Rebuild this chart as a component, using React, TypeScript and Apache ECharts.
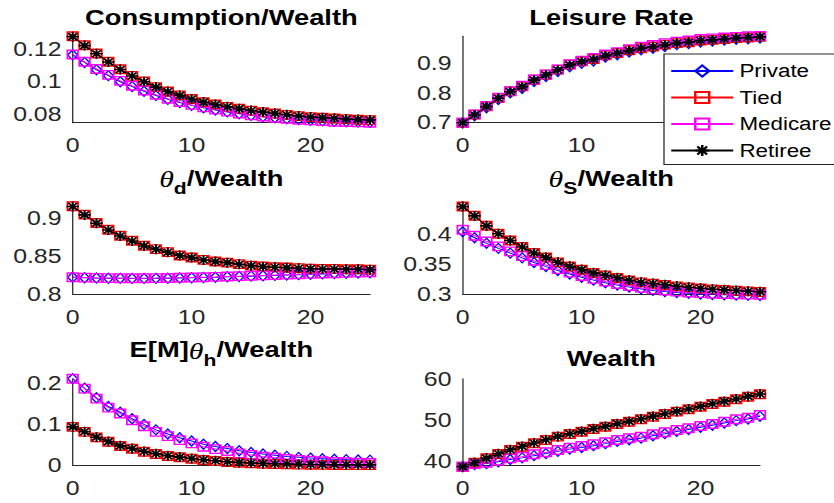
import React, { useEffect, useRef } from 'react';
import * as echarts from 'echarts';

// ---------------- data ----------------
const periods = [0, 1, 2, 3, 4, 5, 6, 7, 8, 9, 10, 11, 12, 13, 14, 15, 16, 17, 18, 19, 20, 21, 22, 23, 24, 25];
const seriesNames = ['Private', 'Tied', 'Medicare', 'Retiree'];
const xTicks = [0, 10, 20];

// Consumption / Wealth
const consPrivate = [0.1163, 0.1117, 0.1072, 0.1036, 0.0999, 0.0969, 0.0941, 0.0915, 0.0892, 0.0872, 0.0854, 0.0839, 0.0826, 0.0814, 0.0803, 0.0793, 0.0785, 0.0778, 0.0772, 0.0767, 0.0763, 0.0759, 0.0756, 0.0754, 0.0752, 0.0751];
const consTied = [0.1277, 0.1222, 0.1172, 0.1121, 0.1075, 0.1035, 0.1000, 0.0966, 0.0939, 0.0915, 0.0893, 0.0873, 0.0859, 0.0845, 0.0833, 0.0822, 0.0812, 0.0804, 0.0796, 0.0788, 0.0782, 0.0778, 0.0774, 0.0770, 0.0766, 0.0764];
const consMedicare = [0.1166, 0.1121, 0.1077, 0.1041, 0.1004, 0.0974, 0.0945, 0.0919, 0.0895, 0.0875, 0.0857, 0.0842, 0.0828, 0.0816, 0.0804, 0.0794, 0.0786, 0.0778, 0.0772, 0.0766, 0.0762, 0.0758, 0.0754, 0.0752, 0.0750, 0.0748];
const consRetiree = [0.1275, 0.1220, 0.1170, 0.1120, 0.1074, 0.1034, 0.0999, 0.0966, 0.0939, 0.0915, 0.0893, 0.0874, 0.0859, 0.0846, 0.0834, 0.0823, 0.0813, 0.0805, 0.0797, 0.0789, 0.0783, 0.0779, 0.0775, 0.0771, 0.0768, 0.0765];
const consTicks = [0.08, 0.1, 0.12];

// Leisure Rate
const leisPrivate = [0.699, 0.723, 0.750, 0.778, 0.800, 0.815, 0.838, 0.855, 0.872, 0.888, 0.899, 0.907, 0.920, 0.928, 0.937, 0.945, 0.950, 0.956, 0.962, 0.966, 0.971, 0.974, 0.977, 0.980, 0.982, 0.984];
const leisTied = [0.700, 0.727, 0.755, 0.783, 0.805, 0.822, 0.844, 0.861, 0.878, 0.895, 0.906, 0.914, 0.926, 0.934, 0.943, 0.950, 0.956, 0.962, 0.967, 0.970, 0.976, 0.978, 0.981, 0.984, 0.986, 0.988];
const leisMedicare = [0.700, 0.728, 0.756, 0.784, 0.806, 0.824, 0.845, 0.862, 0.879, 0.896, 0.908, 0.917, 0.929, 0.937, 0.947, 0.955, 0.961, 0.967, 0.972, 0.976, 0.981, 0.983, 0.986, 0.988, 0.990, 0.991];
const leisRetiree = [0.700, 0.726, 0.754, 0.782, 0.804, 0.821, 0.843, 0.860, 0.877, 0.894, 0.905, 0.913, 0.925, 0.933, 0.942, 0.950, 0.955, 0.961, 0.967, 0.970, 0.976, 0.978, 0.981, 0.984, 0.986, 0.988];
const leisTicks = [0.7, 0.8, 0.9];

// theta_d / Wealth
const thdPrivate = [0.8222, 0.8216, 0.8212, 0.8209, 0.8208, 0.8207, 0.8207, 0.8208, 0.8210, 0.8212, 0.8215, 0.8219, 0.8223, 0.8228, 0.8232, 0.8237, 0.8242, 0.8247, 0.8252, 0.8257, 0.8262, 0.8267, 0.8271, 0.8275, 0.8279, 0.8283];
const thdTied = [0.9164, 0.9053, 0.8943, 0.8853, 0.8773, 0.8707, 0.8640, 0.8596, 0.8556, 0.8511, 0.8484, 0.8453, 0.8431, 0.8417, 0.8396, 0.8377, 0.8364, 0.8356, 0.8351, 0.8343, 0.8337, 0.8333, 0.8333, 0.8329, 0.8329, 0.8324];
const thdMedicare = [0.8223, 0.8218, 0.8214, 0.8211, 0.8210, 0.8210, 0.8210, 0.8211, 0.8213, 0.8216, 0.8219, 0.8223, 0.8227, 0.8232, 0.8237, 0.8242, 0.8247, 0.8252, 0.8257, 0.8262, 0.8267, 0.8272, 0.8276, 0.8280, 0.8284, 0.8288];
const thdRetiree = [0.9162, 0.9050, 0.8940, 0.8850, 0.8770, 0.8704, 0.8638, 0.8594, 0.8554, 0.8510, 0.8483, 0.8452, 0.8430, 0.8416, 0.8395, 0.8376, 0.8363, 0.8355, 0.8350, 0.8342, 0.8336, 0.8332, 0.8332, 0.8328, 0.8328, 0.8323];
const thdTicks = [0.8, 0.85, 0.9];

// theta_s / Wealth
const thsPrivate = [0.4050, 0.3950, 0.3855, 0.3770, 0.3690, 0.3610, 0.3532, 0.3462, 0.3395, 0.3337, 0.3283, 0.3234, 0.3190, 0.3150, 0.3116, 0.3086, 0.3061, 0.3041, 0.3025, 0.3011, 0.3001, 0.2992, 0.2986, 0.2981, 0.2977, 0.2975];
const thsTied = [0.4477, 0.4320, 0.4152, 0.4017, 0.3904, 0.3793, 0.3691, 0.3617, 0.3533, 0.3465, 0.3410, 0.3354, 0.3314, 0.3270, 0.3229, 0.3196, 0.3174, 0.3152, 0.3128, 0.3111, 0.3094, 0.3078, 0.3067, 0.3056, 0.3044, 0.3034];
const thsMedicare = [0.4084, 0.3983, 0.3887, 0.3803, 0.3720, 0.3640, 0.3560, 0.3488, 0.3420, 0.3360, 0.3305, 0.3255, 0.3210, 0.3170, 0.3135, 0.3103, 0.3078, 0.3058, 0.3040, 0.3026, 0.3015, 0.3005, 0.2999, 0.2994, 0.2990, 0.2988];
const thsRetiree = [0.4475, 0.4318, 0.4150, 0.4016, 0.3903, 0.3793, 0.3692, 0.3618, 0.3535, 0.3467, 0.3412, 0.3357, 0.3317, 0.3273, 0.3232, 0.3199, 0.3177, 0.3155, 0.3131, 0.3114, 0.3097, 0.3081, 0.3070, 0.3059, 0.3047, 0.3037];
const thsTicks = [0.3, 0.35, 0.4];

// E[M] theta_h / Wealth
const thhPrivate = [0.2125, 0.1890, 0.1655, 0.1440, 0.1300, 0.1140, 0.1000, 0.0865, 0.0765, 0.0670, 0.0590, 0.0510, 0.0455, 0.0405, 0.0352, 0.0310, 0.0270, 0.0242, 0.0212, 0.0188, 0.0170, 0.0155, 0.0140, 0.0132, 0.0125, 0.0120];
const thhTied = [0.0939, 0.0816, 0.0679, 0.0571, 0.0466, 0.0400, 0.0326, 0.0270, 0.0221, 0.0189, 0.0154, 0.0123, 0.0098, 0.0074, 0.0056, 0.0042, 0.0032, 0.0025, 0.0017, 0.0010, 0.0005, 0.0002, 0.0000, -0.0002, -0.0003, -0.0004];
const thhMedicare = [0.2125, 0.1880, 0.1635, 0.1414, 0.1267, 0.1103, 0.0956, 0.0816, 0.0711, 0.0613, 0.0532, 0.0449, 0.0392, 0.0343, 0.0287, 0.0245, 0.0204, 0.0179, 0.0147, 0.0123, 0.0106, 0.0091, 0.0074, 0.0066, 0.0057, 0.0049];
const thhRetiree = [0.0939, 0.0820, 0.0685, 0.0577, 0.0472, 0.0406, 0.0332, 0.0276, 0.0227, 0.0195, 0.0160, 0.0130, 0.0105, 0.0081, 0.0064, 0.0050, 0.0040, 0.0032, 0.0025, 0.0018, 0.0013, 0.0010, 0.0008, 0.0006, 0.0005, 0.0004];
const thhTicks = [0, 0.1, 0.2];

// Wealth
const wPrivate = [38.58, 39.10, 39.35, 39.80, 40.35, 40.75, 41.30, 41.80, 42.35, 42.90, 43.30, 43.75, 44.25, 44.80, 45.20, 45.60, 46.20, 46.70, 47.25, 47.70, 48.25, 48.75, 49.30, 49.90, 50.30, 50.95];
const wTied = [38.58, 39.57, 40.65, 41.70, 42.69, 43.50, 44.33, 45.14, 45.96, 46.62, 47.18, 47.85, 48.41, 49.08, 49.64, 50.23, 50.87, 51.53, 52.10, 52.69, 53.32, 53.99, 54.55, 55.14, 55.78, 56.37];
const wMedicare = [38.58, 39.25, 39.57, 40.06, 40.65, 41.04, 41.63, 42.12, 42.69, 43.25, 43.67, 44.09, 44.58, 45.14, 45.56, 45.95, 46.54, 47.03, 47.60, 48.02, 48.58, 49.08, 49.64, 50.23, 50.62, 51.29];
const wRetiree = [38.60, 39.62, 40.70, 41.75, 42.74, 43.56, 44.39, 45.20, 46.02, 46.68, 47.25, 47.92, 48.48, 49.15, 49.71, 50.30, 50.94, 51.60, 52.17, 52.76, 53.39, 54.06, 54.62, 55.21, 55.85, 56.44];
const wTicks = [40, 50, 60];

// ---------------- layout ----------------
const CW = 671; // chart drawn narrower, then stretched horizontally like the reference
const CH = 503;
const S = 834 / CW;
const px = (v: number) => v / S;

const FONT = "'Liberation Sans', Arial, Helvetica, sans-serif";
const AXIS_COLOR = '#262626';

const colLeft = [72.7, 462.7];
const colRight = [370, 760];
const rowTop = [36.3, 206.3, 378.7];
const rowBottom = [122.7, 294, 465];

const panels = [
  { series: [consPrivate, consTied, consMedicare, consRetiree], ticks: consTicks, min: 0.0748, max: 0.1277 },
  { series: [leisPrivate, leisTied, leisMedicare, leisRetiree], ticks: leisTicks, min: 0.7, max: 0.99 },
  { series: [thdPrivate, thdTied, thdMedicare, thdRetiree], ticks: thdTicks, min: 0.8, max: 0.9164 },
  { series: [thsPrivate, thsTied, thsMedicare, thsRetiree], ticks: thsTicks, min: 0.3, max: 0.448 },
  { series: [thhPrivate, thhTied, thhMedicare, thhRetiree], ticks: thhTicks, min: 0, max: 0.2125 },
  { series: [wPrivate, wTied, wMedicare, wRetiree], ticks: wTicks, min: 39, max: 60.2 },
];

const ASTERISK = 'path://M5 0L5 10M0 5L10 5M1.5 1.5L8.5 8.5M1.5 8.5L8.5 1.5';
const seriesStyle = [
  { color: '#0000ff', symbol: 'diamond', size: [8, 10], bw: 1.2 },
  { color: '#ff0000', symbol: 'rect', size: 8.5, bw: 1.4 },
  { color: '#ff00ff', symbol: 'rect', size: 8.5, bw: 1.4 },
  { color: '#000000', symbol: ASTERISK, size: 10, bw: 1.6 },
];

const titleRich = {
  m: { fontSize: 22, fontWeight: 'bold', fontFamily: FONT, color: '#000', lineHeight: 24, verticalAlign: 'top' },
  th: { fontSize: 24, fontStyle: 'italic', fontFamily: "'Liberation Serif', 'Times New Roman', serif", color: '#000', lineHeight: 24, verticalAlign: 'top' },
  sub: { fontSize: 17, fontWeight: 'bold', fontFamily: FONT, color: '#000', lineHeight: 17, padding: [13, 0, 0, 0], verticalAlign: 'top' },
};

const titles = [
  { text: '{m|Consumption/Wealth}', col: 0, y: 6.4 },
  { text: '{m|Leisure Rate}', col: 1, y: 6.4 },
  { text: '{th|θ}{sub|d}{m|/Wealth}', col: 0, y: 167.2 },
  { text: '{th|θ}{sub|S}{m|/Wealth}', col: 1, y: 167.2 },
  { text: '{m|E[M]}{th|θ}{sub|h}{m|/Wealth}', col: 0, y: 338.8 },
  { text: '{m|Wealth}', col: 1, y: 347.2 },
];

function buildOption() {
  const grid: any[] = [];
  const xAxis: any[] = [];
  const yAxis: any[] = [];
  const series: any[] = [];
  panels.forEach((p, i) => {
    const row = Math.floor(i / 2);
    const col = i % 2;
    grid.push({
      left: px(colLeft[col]),
      top: rowTop[row],
      width: px(colRight[col] - colLeft[col]),
      height: rowBottom[row] - rowTop[row],
      containLabel: false,
    });
    xAxis.push({
      type: 'value',
      gridIndex: i,
      min: 0,
      max: 25,
      axisLine: { show: true, onZero: false, lineStyle: { color: AXIS_COLOR, width: 1 } },
      axisTick: { show: false },
      splitLine: { show: false },
      axisLabel: { customValues: xTicks, fontSize: 20, fontFamily: FONT, color: AXIS_COLOR, margin: 13 },
    });
    yAxis.push({
      type: 'value',
      gridIndex: i,
      min: p.min,
      max: p.max,
      axisLine: { show: true, onZero: false, lineStyle: { color: AXIS_COLOR, width: 1 } },
      axisTick: { show: false },
      splitLine: { show: false },
      axisLabel: {
        customValues: p.ticks,
        fontSize: 20,
        fontFamily: FONT,
        color: AXIS_COLOR,
        margin: 9,
        formatter: (v: number) => String(v),
      },
    });
    p.series.forEach((arr, j) => {
      const st = seriesStyle[j];
      series.push({
        type: 'line',
        name: seriesNames[j],
        xAxisIndex: i,
        yAxisIndex: i,
        data: periods.map((x, k) => [x, arr[k]]),
        symbol: st.symbol,
        symbolSize: st.size,
        showAllSymbol: true,
        clip: false,
        z: 2 + j,
        lineStyle: { color: st.color, width: 1 },
        itemStyle: { color: 'transparent', borderColor: st.color, borderWidth: st.bw },
        emphasis: { disabled: true },
      });
    });
  });

  const graphic = titles.map((t) => ({
    type: 'text',
    x: px((colLeft[t.col] + colRight[t.col]) / 2),
    y: t.y,
    style: { text: t.text, rich: titleRich, align: 'center', verticalAlign: 'top' },
    z: 10,
  }));

  return {
    animation: false,
    backgroundColor: '#ffffff',
    grid,
    xAxis,
    yAxis,
    series,
    graphic,
    legend: {
      data: seriesNames,
      orient: 'vertical',
      left: px(664),
      top: 54,
      itemWidth: px(62),
      itemHeight: 14,
      itemGap: 8.5,
      padding: [8, 5, 5, px(6)],
      backgroundColor: '#ffffff',
      borderColor: AXIS_COLOR,
      borderWidth: 1,
      borderRadius: 0,
      selectedMode: false,
      textStyle: { fontSize: 18, fontFamily: FONT, color: '#000', lineHeight: 18 },
      z: 20,
    },
  };
}

export default function App() {
  const ref = useRef<HTMLDivElement>(null);
  useEffect(() => {
    document.body.style.margin = '0';
    if (!ref.current) return;
    const chart = echarts.init(ref.current, undefined, { renderer: 'svg' });
    chart.setOption(buildOption() as any);
    return () => chart.dispose();
  }, []);
  return (
    <div style={{ position: 'absolute', left: 0, top: 0, width: 834, height: CH, overflow: 'hidden', background: '#fff' }}>
      <div
        ref={ref}
        style={{ width: CW, height: CH, transform: `scaleX(${S})`, transformOrigin: '0 0' }}
      />
    </div>
  );
}
